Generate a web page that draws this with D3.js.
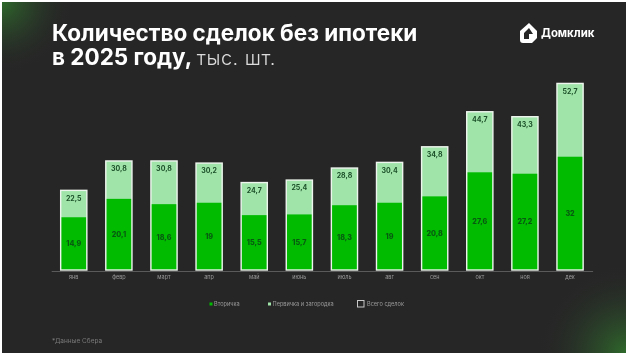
<!DOCTYPE html>
<html>
<head>
<meta charset="utf-8">
<script src="https://cdn.jsdelivr.net/npm/d3@7"></script>
<style>
  html, body { margin: 0; padding: 0; background: #fff; }
  svg { display: block; font-family: Inter, "Open Sans", sans-serif; filter: blur(0.3px); }
</style>
</head>
<body>
<div class="canvas"></div>
<script>
/**
 * Data
 */
const months = ["янв", "февр", "март", "апр", "май", "июнь", "июль", "авг", "сен", "окт", "ноя", "дек"]
const secondary = [14.9, 20.1, 18.6, 19, 15.5, 15.7, 18.3, 19, 20.8, 27.6, 27.2, 32]
const totals = [22.5, 30.8, 30.8, 30.2, 24.7, 25.4, 28.8, 30.4, 34.8, 44.7, 43.3, 52.7]
const legendItems = ["Вторичка", "Первичка и загородка", "Всего сделок"]

const fmt = v => String(v).replace(".", ",")

/**
 * Graph dimensions
 */
const width = 628
const height = 355

const svg = d3.select(".canvas")
    .append("svg")
    .attr("width", width)
    .attr("height", height)

const defs = svg.append("defs")

const glow = (id, cx, cy, r) => {
    const g = defs.append("radialGradient")
        .attr("id", id)
        .attr("gradientUnits", "userSpaceOnUse")
        .attr("cx", cx).attr("cy", cy).attr("r", r)
    g.append("stop").attr("offset", 0).attr("stop-color", "#2f6a2b").attr("stop-opacity", 1)
    g.append("stop").attr("offset", 0.45).attr("stop-color", "#2c4f2a").attr("stop-opacity", 0.55)
    g.append("stop").attr("offset", 1).attr("stop-color", "#262626").attr("stop-opacity", 0)
}
glow("glowTL", 2, 2, 72)
glow("glowBR", 626, 353, 88)

// background, the picture has a thin white frame
const bg = [["#262626"], ["url(#glowTL)"], ["url(#glowBR)"]]
svg.selectAll("rect.bg")
    .data(bg)
    .enter().append("rect")
    .attr("class", "bg")
    .attr("x", 2).attr("y", 2)
    .attr("width", width - 4).attr("height", height - 4)
    .attr("fill", d => d[0])

/**
 * Title, one text with two lines
 */
const title = svg.append("text")
    .attr("fill", "#fff")
    .attr("font-size", 22.5)
    .attr("font-weight", 700)
title.append("tspan")
    .attr("x", 52).attr("y", 41)
    .text("Количество сделок без ипотеки")
title.append("tspan")
    .attr("x", 52).attr("y", 65)
    .text("в 2025 году, ")
title.append("tspan")
    .attr("font-weight", 300).attr("font-size", 20).attr("fill", "#dcdcdc")
    .attr("letter-spacing", 0.5)
    .text("тыс. шт.")

/**
 * Logo
 */
const logo = svg.append("g").attr("fill", "#fff")
logo.append("path")
    .attr("fill-rule", "evenodd")
    .attr("d", "M520 31 L529 23 L537 31 L537 38 L532 43 L523 43 Q520 43 520 40 Z M524 33 L524 39 L529 39 L529 34 L533 34 L529 28 Z")
logo.append("text")
    .attr("x", 541).attr("y", 36.7)
    .attr("font-size", 11.4).attr("font-weight", 700)
    .text("Домклик")

/**
 * Scales & axis
 */
const x = d3.scaleBand()
    .domain(months)
    .range([51.2, 592.6])
    .paddingInner(0.42)
    .paddingOuter(0.21)
const y = d3.scaleLinear().domain([0, 60]).range([270, 57.6])

const xAxis = d3.axisBottom(x).tickSize(0).tickPadding(4)
const xAxisGroup = svg.append("g")
    .attr("transform", "translate(0, 271)")
    .call(xAxis)
xAxisGroup.select(".domain").attr("stroke", "#5a5a5a").attr("stroke-width", 1)
xAxisGroup.selectAll("text")
    .attr("fill", "#9a9a9a")
    .attr("font-size", 5.5)
    .attr("font-family", "Inter, sans-serif")

/**
 * Bars
 */
const bars = svg.selectAll("g.bar")
    .data(months.map((m, i) => ({month: m, secondary: secondary[i], total: totals[i]})))
    .enter().append("g")
    .attr("class", "bar")

bars.append("rect")
    .attr("x", d => x(d.month))
    .attr("y", d => y(d.total))
    .attr("width", x.bandwidth())
    .attr("height", d => y(0) - y(d.total))
    .attr("fill", "#a1e4aa")
bars.append("rect")
    .attr("x", d => x(d.month))
    .attr("y", d => y(d.secondary))
    .attr("width", x.bandwidth())
    .attr("height", d => y(0) - y(d.secondary))
    .attr("fill", "#00bb00")
bars.append("rect")
    .attr("x", d => x(d.month))
    .attr("y", d => y(d.total))
    .attr("width", x.bandwidth())
    .attr("height", d => y(0) - y(d.total))
    .attr("fill", "none")
    .attr("stroke", "#eef5ee")
    .attr("stroke-width", 1.4)

bars.append("text")
    .attr("x", d => x(d.month) + x.bandwidth() / 2)
    .attr("y", d => y(d.total) + 10.3)
    .attr("text-anchor", "middle")
    .attr("font-size", 7).attr("font-weight", 700)
    .attr("fill", "#1c5029")
    .text(d => fmt(d.total))
bars.append("text")
    .attr("x", d => x(d.month) + x.bandwidth() / 2)
    .attr("y", d => (y(d.secondary) + y(0)) / 2 + 2.5)
    .attr("text-anchor", "middle")
    .attr("font-size", 7.2).attr("font-weight", 800)
    .attr("fill", "#075a10")
    .text(d => fmt(d.secondary))

/**
 * Legend
 */
const legendX = [214, 272.5, 367]
const legend = svg.selectAll("g.legend")
    .data(legendItems)
    .enter().append("g")
    .attr("class", "legend")
legend.append("text")
    .attr("x", (d, i) => legendX[i])
    .attr("y", 306)
    .attr("font-size", 5.6)
    .attr("fill", "#9a9a9a")
    .text(d => d)
legend.filter((d, i) => i < 2).append("rect")
    .attr("x", (d, i) => legendX[i] - 4.5)
    .attr("y", 302.5)
    .attr("width", 3).attr("height", 3)
    .attr("fill", (d, i) => i == 0 ? "#00bb00" : "#a1e4aa")
legend.filter((d, i) => i == 2).append("rect")
    .attr("x", 357.5).attr("y", 300.5)
    .attr("width", 6.5).attr("height", 6.5)
    .attr("fill", "none")
    .attr("stroke", "#c8c8c8")
    .attr("stroke-width", 1)

/**
 * Footnote
 */
svg.append("text")
    .attr("x", 52).attr("y", 342.5)
    .attr("font-size", 6.5)
    .attr("fill", "#7a7a7a")
    .text("*Данные Сбера")
</script>
</body>
</html>
